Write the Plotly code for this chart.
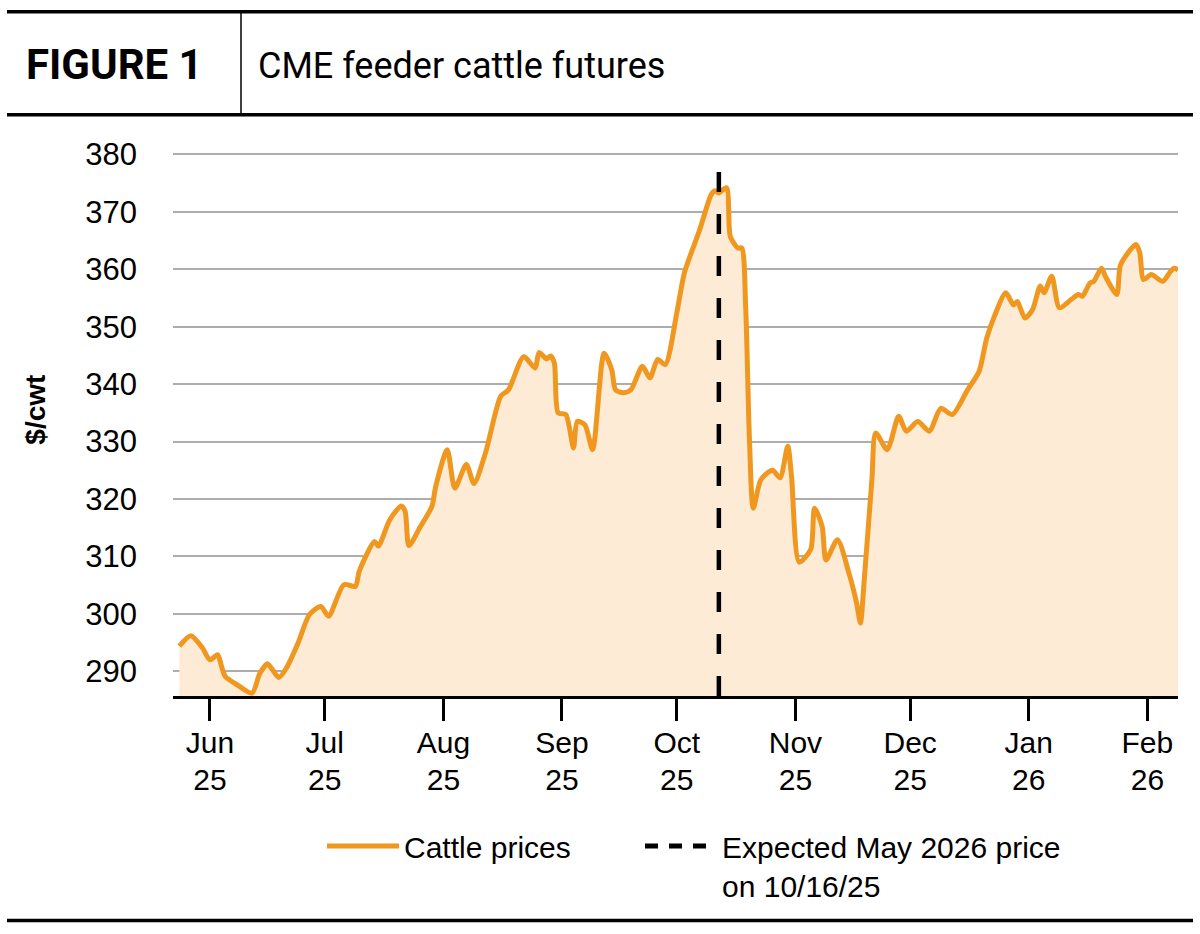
import plotly.graph_objects as go

dates = ["2025-05-24","2025-05-27","2025-05-30","2025-06-01","2025-06-03","2025-06-04","2025-06-05","2025-06-08",
"2025-06-12","2025-06-14","2025-06-16","2025-06-17","2025-06-19","2025-06-21","2025-06-24","2025-06-27",
"2025-06-30","2025-07-02","2025-07-06","2025-07-09","2025-07-10","2025-07-14","2025-07-15","2025-07-18","2025-07-21",
"2025-07-22","2025-07-23","2025-07-26","2025-07-29","2025-07-30","2025-08-02","2025-08-04","2025-08-07","2025-08-09",
"2025-08-12","2025-08-16","2025-08-18","2025-08-22","2025-08-25","2025-08-26","2025-08-28","2025-08-29","2025-08-30",
"2025-08-31","2025-09-02","2025-09-04","2025-09-05","2025-09-07","2025-09-09","2025-09-12","2025-09-14","2025-09-15",
"2025-09-17","2025-09-19","2025-09-22","2025-09-24","2025-09-26","2025-09-28","2025-10-01","2025-10-03","2025-10-07",
"2025-10-10","2025-10-11","2025-10-12","2025-10-14","2025-10-15","2025-10-17","2025-10-18","2025-10-19","2025-10-20",
"2025-10-21","2025-10-23","2025-10-26","2025-10-28","2025-10-30","2025-10-31","2025-11-02","2025-11-05","2025-11-06",
"2025-11-08","2025-11-09","2025-11-12","2025-11-15","2025-11-17","2025-11-18","2025-11-19","2025-11-21","2025-11-22",
"2025-11-25","2025-11-28","2025-11-30","2025-12-03","2025-12-06","2025-12-09","2025-12-12","2025-12-16","2025-12-19",
"2025-12-21","2025-12-23","2025-12-26","2025-12-28","2025-12-29","2025-12-31","2026-01-02","2026-01-04","2026-01-05",
"2026-01-07","2026-01-09","2026-01-12","2026-01-14","2026-01-15","2026-01-17","2026-01-18","2026-01-20","2026-01-21",
"2026-01-24","2026-01-25","2026-01-29","2026-01-30","2026-01-31","2026-02-02","2026-02-05","2026-02-07","2026-02-08",
"2026-02-09"]

prices = [294.4,296.2,294.1,292.0,292.9,290.9,289.1,287.7,
286.2,289.6,291.3,290.6,288.9,290.6,294.9,299.9,
301.3,299.6,305.1,304.8,307.4,312.6,311.8,316.4,318.8,
317.9,311.9,315.2,318.7,322.2,328.6,321.9,326.0,322.7,
328.0,337.9,339.0,344.8,342.8,345.5,344.4,344.9,343.7,
335.0,334.7,328.9,333.5,332.9,328.6,345.4,342.5,339.0,
338.5,339.0,343.1,341.1,344.3,343.4,352.4,359.4,366.9,
373.0,373.7,373.3,374.2,365.7,363.7,363.7,353.5,330.3,
318.4,323.4,325.0,323.7,329.2,323.9,309.0,311.2,318.4,
315.2,309.4,312.9,307.1,301.9,298.4,306.0,323.4,331.5,
328.6,334.4,331.8,333.5,331.8,335.8,334.7,339.0,342.2,
348.0,351.8,355.9,353.8,354.4,351.5,353.0,357.1,355.9,
358.8,353.3,354.7,355.6,355.3,357.6,357.9,360.2,358.8,
355.6,360.8,364.3,362.9,358.2,359.1,357.9,359.6,360.2,
359.9]

expected_date = "2025-10-12"
expected_span = [285.7, 378.0]

tick_dates = ["2025-06-01","2025-07-01","2025-08-01","2025-09-01","2025-10-01",
              "2025-11-01","2025-12-01","2026-01-01","2026-02-01"]
tick_months = ["Jun","Jul","Aug","Sep","Oct","Nov","Dec","Jan","Feb"]
tick_years = ["25","25","25","25","25","25","25","26","26"]
y_ticks = [290,300,310,320,330,340,350,360,370,380]

title_left = "FIGURE 1"
title_right = "CME feeder cattle futures"
y_title = "$/cwt"
legend_names = ["Cattle prices", "Expected May 2026 price<br>on 10/16/25"]

ORANGE = "#F0971F"
FILL = "#FDEBD6"
SANS = "Liberation Sans, Arial, sans-serif"

W, H = 1200, 934
L, R, T, B = 173, 22, 151.3, 237.6
PW, PH = W - L - R, H - T - B

def xp(px):
    return (px - L) / PW

def yp(py):
    return (H - B - py) / PH

fig = go.Figure()
fig.add_trace(go.Scatter(
    x=dates, y=prices, mode="lines",
    line=dict(color=ORANGE, width=5, shape="spline", smoothing=0.7),
    fill="tozeroy", fillcolor=FILL, showlegend=False, hoverinfo="skip"))
fig.add_trace(go.Scatter(
    x=[expected_date, expected_date], y=expected_span, mode="lines",
    line=dict(color="black", width=4.5, dash="20px,22px"),
    showlegend=False, hoverinfo="skip"))
# legend entries
fig.add_trace(go.Scatter(x=[None], y=[None], mode="lines", name=legend_names[0],
                         line=dict(color=ORANGE, width=5), xaxis="x2", legend="legend"))
fig.add_trace(go.Scatter(x=[None], y=[None], mode="lines", name=legend_names[1],
                         line=dict(color="black", width=5, dash="13px,11px"), xaxis="x2",
                         legend="legend2"))

xrange = ["2025-05-22 08:00", "2026-02-09 00:00"]

legend_common = dict(orientation="h", xref="container", yref="container",
                     xanchor="left", yanchor="top", font=dict(size=30, family=SANS),
                     itemwidth=72, valign="top", bgcolor="rgba(0,0,0,0)")

fig.update_layout(
    width=W, height=H,
    margin=dict(l=L, r=R, t=T, b=B, pad=0, autoexpand=False),
    paper_bgcolor="white", plot_bgcolor="white",
    font=dict(family=SANS, color="black", size=30),
    xaxis=dict(type="date", range=xrange, tickvals=tick_dates, ticktext=tick_months,
               showgrid=False, showline=True, linecolor="black", linewidth=3,
               ticks="outside", ticklen=22, tickwidth=3, tickcolor="black",
               tickfont=dict(size=30, family=SANS), ticklabelstandoff=-4, zeroline=False),
    xaxis2=dict(type="date", range=xrange, overlaying="x", anchor="y", side="bottom",
                tickvals=tick_dates, ticktext=tick_years, showgrid=False, showline=False,
                ticks="outside", ticklen=22, tickcolor="rgba(0,0,0,0)",
                tickfont=dict(size=30, family=SANS), ticklabelstandoff=35, zeroline=False),
    yaxis=dict(range=[285.7, 380.6], tickvals=y_ticks, showgrid=True, gridcolor="#ADADAD",
               gridwidth=2.4, zeroline=False, showline=False, ticks="",
               tickfont=dict(size=31, family=SANS), ticklabelstandoff=35),
    showlegend=True,
    legend=dict(x=322 / W, y=1 - 820 / H, **legend_common),
    legend2=dict(x=640 / W, y=1 - 820 / H, **legend_common),
)

fig.add_annotation(text="<b>" + y_title + "</b>", x=xp(36), y=yp(410), xref="paper", yref="paper",
                   showarrow=False, textangle=-90, font=dict(size=28, family=SANS),
                   xanchor="center", yanchor="middle")
fig.add_annotation(text="<b>" + title_left + "</b>", x=xp(24), y=yp(65), xref="paper", yref="paper",
                   showarrow=False, xanchor="left", yanchor="middle",
                   font=dict(size=42, family="Roboto, sans-serif", weight=900))
fig.add_annotation(text=title_right, x=xp(256), y=yp(66), xref="paper", yref="paper",
                   showarrow=False, xanchor="left", yanchor="middle",
                   font=dict(size=36, family="Roboto, sans-serif"))

for yy, w in [(12, 3.5), (115, 3.5), (921, 3.5)]:
    fig.add_shape(type="line", xref="paper", yref="paper", x0=xp(7), x1=xp(1193),
                  y0=yp(yy), y1=yp(yy), line=dict(color="black", width=w))
fig.add_shape(type="line", xref="paper", yref="paper", x0=xp(241), x1=xp(241),
              y0=yp(12), y1=yp(115), line=dict(color="black", width=1.5))

fig.write_html("out.html")
